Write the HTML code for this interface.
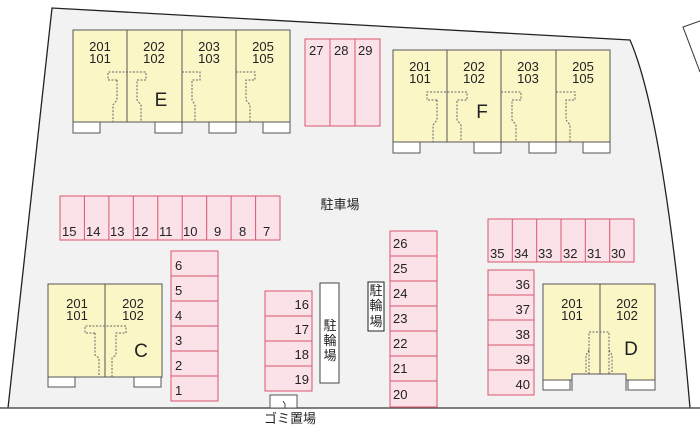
<!DOCTYPE html>
<html><head><meta charset="utf-8"><style>
html,body{margin:0;padding:0;background:#fff;}
svg{display:block;}
text{font-family:"Liberation Sans","Noto Sans CJK JP",sans-serif;fill:#222;}
</style></head><body>
<svg width="700" height="430" viewBox="0 0 700 430" xmlns="http://www.w3.org/2000/svg">
<path d="M52,8 L630,40 Q665,120 690,408 L8,408 Z" fill="#f2f2f2" stroke="none"/>
<path d="M8,408 L52,8 L630,40 Q665,120 690,408" fill="none" stroke="#222" stroke-width="1.3"/>
<line x1="0" y1="408" x2="700" y2="408" stroke="#555" stroke-width="1.5"/>
<path d="M700,21 L683,27 L700,72" fill="none" stroke="#333" stroke-width="1"/>

<g stroke="#555" stroke-width="1" fill="#fff">
<rect x="73" y="122" width="27" height="11"/><rect x="155" y="122" width="27" height="11"/>
<rect x="209" y="122" width="27" height="11"/><rect x="263" y="122" width="27" height="11"/>
<rect x="393" y="142" width="27" height="11"/><rect x="474" y="142" width="27" height="11"/>
<rect x="529" y="142" width="27" height="11"/><rect x="583" y="142" width="27" height="11"/>
<rect x="48" y="377" width="27" height="10"/><rect x="134" y="377" width="27" height="10"/>
<rect x="543" y="380" width="27" height="10"/><rect x="628" y="380" width="27" height="10"/>
<rect x="270" y="395" width="27" height="13"/>
</g>

<g fill="#faf6c6" stroke="#555" stroke-width="1">
<rect x="73" y="30" width="217" height="92"/>
<rect x="393" y="50" width="217" height="92"/>
<rect x="48" y="284" width="114" height="93"/>
<rect x="543" y="284" width="112" height="96"/>
</g>
<rect x="572" y="374" width="54" height="17" fill="#f2f2f2" stroke="none"/>
<path d="M572,391 V374 H626 V391" fill="none" stroke="#555"/>
<g stroke="#555" stroke-width="1">
<line x1="127" y1="30" x2="127" y2="122"/><line x1="182" y1="30" x2="182" y2="122"/><line x1="236" y1="30" x2="236" y2="122"/>
<line x1="447" y1="50" x2="447" y2="142"/><line x1="501" y1="50" x2="501" y2="142"/><line x1="556" y1="50" x2="556" y2="142"/>
<line x1="105" y1="284" x2="105" y2="377"/><line x1="600" y1="284" x2="600" y2="374"/>
</g>

<g fill="none" stroke="#666" stroke-width="1" stroke-dasharray="2,1.5">
<path d="M117,80 H108 V72 H146 V80 H137 V100 L141,105 V122 M117,80 V100 L113,105 V122"/>
<path d="M182,72 H200 V80 H192 V100 L195,105 V122"/>
<path d="M236,72 H255 V80 H246 V100 L250,105 V122"/>
<path d="M437,100 H427 V92 H467 V100 H457 V120 L461,125 V142 M437,100 V120 L433,125 V142"/>
<path d="M501,92 H521 V100 H512 V120 L516,125 V142"/>
<path d="M556,92 H575 V100 H566 V120 L570,125 V142"/>
<path d="M95,333 H85 V326 H126 V333 H116 V355 L112,358 V377 M95,333 V355 L99,358 V377"/>
<path d="M589,374 V332 H609 V374 M589,350 L586,355 V374 M609,350 L612,355 V374"/>
</g>

<g font-size="13" text-anchor="middle">
<text x="100" y="51">201</text><text x="100" y="63">101</text>
<text x="154" y="51">202</text><text x="154" y="63">102</text>
<text x="209" y="51">203</text><text x="209" y="63">103</text>
<text x="263" y="51">205</text><text x="263" y="63">105</text>
<text x="420" y="71">201</text><text x="420" y="83">101</text>
<text x="474" y="71">202</text><text x="474" y="83">102</text>
<text x="528" y="71">203</text><text x="528" y="83">103</text>
<text x="583" y="71">205</text><text x="583" y="83">105</text>
<text x="77" y="308">201</text><text x="77" y="320">101</text>
<text x="133" y="308">202</text><text x="133" y="320">102</text>
<text x="572" y="308">201</text><text x="572" y="320">101</text>
<text x="627" y="308">202</text><text x="627" y="320">102</text>
</g>
<g font-size="19" text-anchor="middle">
<text x="161" y="106">E</text><text x="482" y="118">F</text>
<text x="141" y="357">C</text><text x="631" y="355">D</text>
</g>

<g fill="#fbe1e8" stroke="#d8576c" stroke-width="1">
<rect x="305" y="39" width="75" height="87"/>
<rect x="60" y="196" width="220" height="44"/>
<rect x="488" y="219" width="146" height="43"/>
<rect x="488" y="270" width="46" height="125"/>
<rect x="171" y="251" width="47" height="150"/>
<rect x="265" y="291" width="47" height="100"/>
<rect x="390" y="231" width="47" height="176"/>
</g>
<g stroke="#d8576c" stroke-width="1">
<line x1="330" y1="39" x2="330" y2="126"/><line x1="355" y1="39" x2="355" y2="126"/>
<line x1="84.4" y1="196" x2="84.4" y2="240"/><line x1="108.9" y1="196" x2="108.9" y2="240"/><line x1="133.3" y1="196" x2="133.3" y2="240"/><line x1="157.8" y1="196" x2="157.8" y2="240"/><line x1="182.2" y1="196" x2="182.2" y2="240"/><line x1="206.7" y1="196" x2="206.7" y2="240"/><line x1="231.1" y1="196" x2="231.1" y2="240"/><line x1="255.6" y1="196" x2="255.6" y2="240"/>
<line x1="512.3" y1="219" x2="512.3" y2="262"/><line x1="536.7" y1="219" x2="536.7" y2="262"/><line x1="561" y1="219" x2="561" y2="262"/><line x1="585.3" y1="219" x2="585.3" y2="262"/><line x1="609.7" y1="219" x2="609.7" y2="262"/>
<line x1="488" y1="295" x2="534" y2="295"/><line x1="488" y1="320" x2="534" y2="320"/><line x1="488" y1="345" x2="534" y2="345"/><line x1="488" y1="370" x2="534" y2="370"/>
<line x1="171" y1="276" x2="218" y2="276"/><line x1="171" y1="301" x2="218" y2="301"/><line x1="171" y1="326" x2="218" y2="326"/><line x1="171" y1="351" x2="218" y2="351"/><line x1="171" y1="376" x2="218" y2="376"/>
<line x1="265" y1="316" x2="312" y2="316"/><line x1="265" y1="341" x2="312" y2="341"/><line x1="265" y1="366" x2="312" y2="366"/>
<line x1="390" y1="256" x2="437" y2="256"/><line x1="390" y1="281" x2="437" y2="281"/><line x1="390" y1="306" x2="437" y2="306"/><line x1="390" y1="331" x2="437" y2="331"/><line x1="390" y1="356" x2="437" y2="356"/><line x1="390" y1="381" x2="437" y2="381"/>
</g>
<g font-size="13">
<text x="309" y="55">27</text><text x="334" y="55">28</text><text x="358" y="55">29</text>
<text x="62" y="236">15</text><text x="86" y="236">14</text><text x="110" y="236">13</text><text x="134" y="236">12</text><text x="159" y="236">11</text><text x="183" y="236">10</text><text x="214" y="236">9</text><text x="239" y="236">8</text><text x="263" y="236">7</text>
<text x="490" y="258">35</text><text x="514" y="258">34</text><text x="538" y="258">33</text><text x="563" y="258">32</text><text x="587" y="258">31</text><text x="611" y="258">30</text>
<text x="175" y="270">6</text><text x="175" y="295">5</text><text x="175" y="320">4</text><text x="175" y="345">3</text><text x="175" y="370">2</text><text x="175" y="395">1</text>
<text x="393" y="248">26</text><text x="393" y="273">25</text><text x="393" y="298">24</text><text x="393" y="323">23</text><text x="393" y="348">22</text><text x="393" y="373">21</text><text x="393" y="399">20</text>
</g>
<g font-size="13" text-anchor="end">
<text x="309" y="309">16</text><text x="309" y="334">17</text><text x="309" y="359">18</text><text x="309" y="384">19</text>
<text x="530" y="289">36</text><text x="530" y="314">37</text><text x="530" y="339">38</text><text x="530" y="364">39</text><text x="530" y="389">40</text>
</g>

<rect x="320" y="283" width="19" height="100" fill="#fff" stroke="#444"/>
<g font-size="13" text-anchor="middle"><text x="330" y="330">駐</text><text x="330" y="345">輪</text><text x="330" y="360">場</text></g>
<rect x="368" y="282" width="16" height="49" fill="#fff" stroke="#222"/>
<g font-size="13" text-anchor="middle"><text x="376" y="295">駐</text><text x="376" y="310">輪</text><text x="376" y="326">場</text></g>
<path d="M283,401 L285,404 V408" stroke="#444" fill="none"/>

<text x="340" y="209" font-size="13" text-anchor="middle">駐車場</text>
<text x="290" y="423" font-size="13" text-anchor="middle">ゴミ置場</text>
</svg>
</body></html>
